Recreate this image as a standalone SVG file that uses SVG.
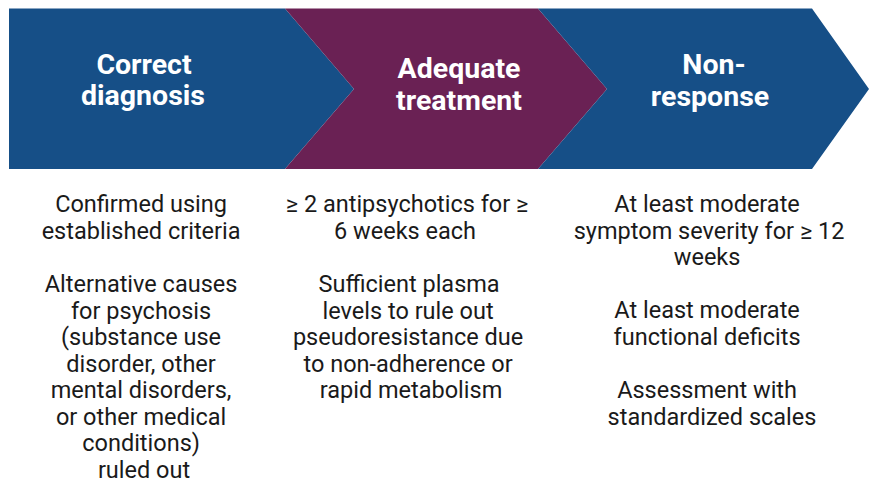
<svg xmlns="http://www.w3.org/2000/svg" width="869" height="483" viewBox="0 0 869 483">
  <style>
    .blue { fill: #164F87; }
    .purple { fill: #6A2154; }
    .head { font-family: Roboto, "Liberation Sans", sans-serif; font-weight: bold; font-size: 28.5px; fill: #ffffff; text-anchor: middle; }
    .body { font-family: Roboto, "Liberation Sans", sans-serif; font-size: 23.5px; fill: #1a1a1a; text-anchor: middle; }
  </style>
  <rect width="869" height="483" fill="#ffffff"/>

  <!-- step 1 -->
  <g id="step-diagnosis">
    <polygon class="blue" points="9,8.5 285,8.5 354,89 285,169 9,169"/>
    <text class="head"><tspan x="144" y="74">Correct</tspan><tspan x="143" y="105">diagnosis</tspan></text>
    <text class="body">
      <tspan x="144" y="212">Confirmed using</tspan>
      <tspan x="144" y="238.5">established criteria</tspan>
      <tspan x="144" y="292">Alternative causes</tspan>
      <tspan x="144" y="318.5">for psychosis</tspan>
      <tspan x="144" y="345">(substance use</tspan>
      <tspan x="144" y="371.5">disorder, other</tspan>
      <tspan x="144" y="398">mental disorders,</tspan>
      <tspan x="144" y="424.5">or other medical</tspan>
      <tspan x="144" y="451">conditions)</tspan>
      <tspan x="144" y="477.5">ruled out</tspan>
    </text>
  </g>

  <!-- step 2 -->
  <g id="step-treatment">
    <polygon class="purple" points="285,8.5 538,8.5 607,89 538,169 285,169 354,89"/>
    <text class="head"><tspan x="459" y="78">Adequate</tspan><tspan x="459" y="110">treatment</tspan></text>
    <text class="body">
      <tspan x="410" y="212">≥ 2 antipsychotics for ≥</tspan>
      <tspan x="408" y="238.5">6 weeks each</tspan>
      <tspan x="412" y="292">Sufficient plasma</tspan>
      <tspan x="411" y="318.5">levels to rule out</tspan>
      <tspan x="411" y="345">pseudoresistance due</tspan>
      <tspan x="411" y="371.5">to non-adherence or</tspan>
      <tspan x="411" y="398">rapid metabolism</tspan>
    </text>
  </g>

  <!-- step 3 -->
  <g id="step-nonresponse">
    <polygon class="blue" points="538,8.5 812,8.5 869,89 812,169 538,169 607,89"/>
    <text class="head"><tspan x="714" y="74">Non-</tspan><tspan x="710" y="106">response</tspan></text>
    <text class="body">
      <tspan x="710" y="212">At least moderate</tspan>
      <tspan x="712" y="238.5">symptom severity for ≥ 12</tspan>
      <tspan x="710" y="265">weeks</tspan>
      <tspan x="710" y="318">At least moderate</tspan>
      <tspan x="710" y="345">functional deficits</tspan>
      <tspan x="710" y="398">Assessment with</tspan>
      <tspan x="712" y="424.5">standardized scales</tspan>
    </text>
  </g>

  <g id="connectors"/>
</svg>
